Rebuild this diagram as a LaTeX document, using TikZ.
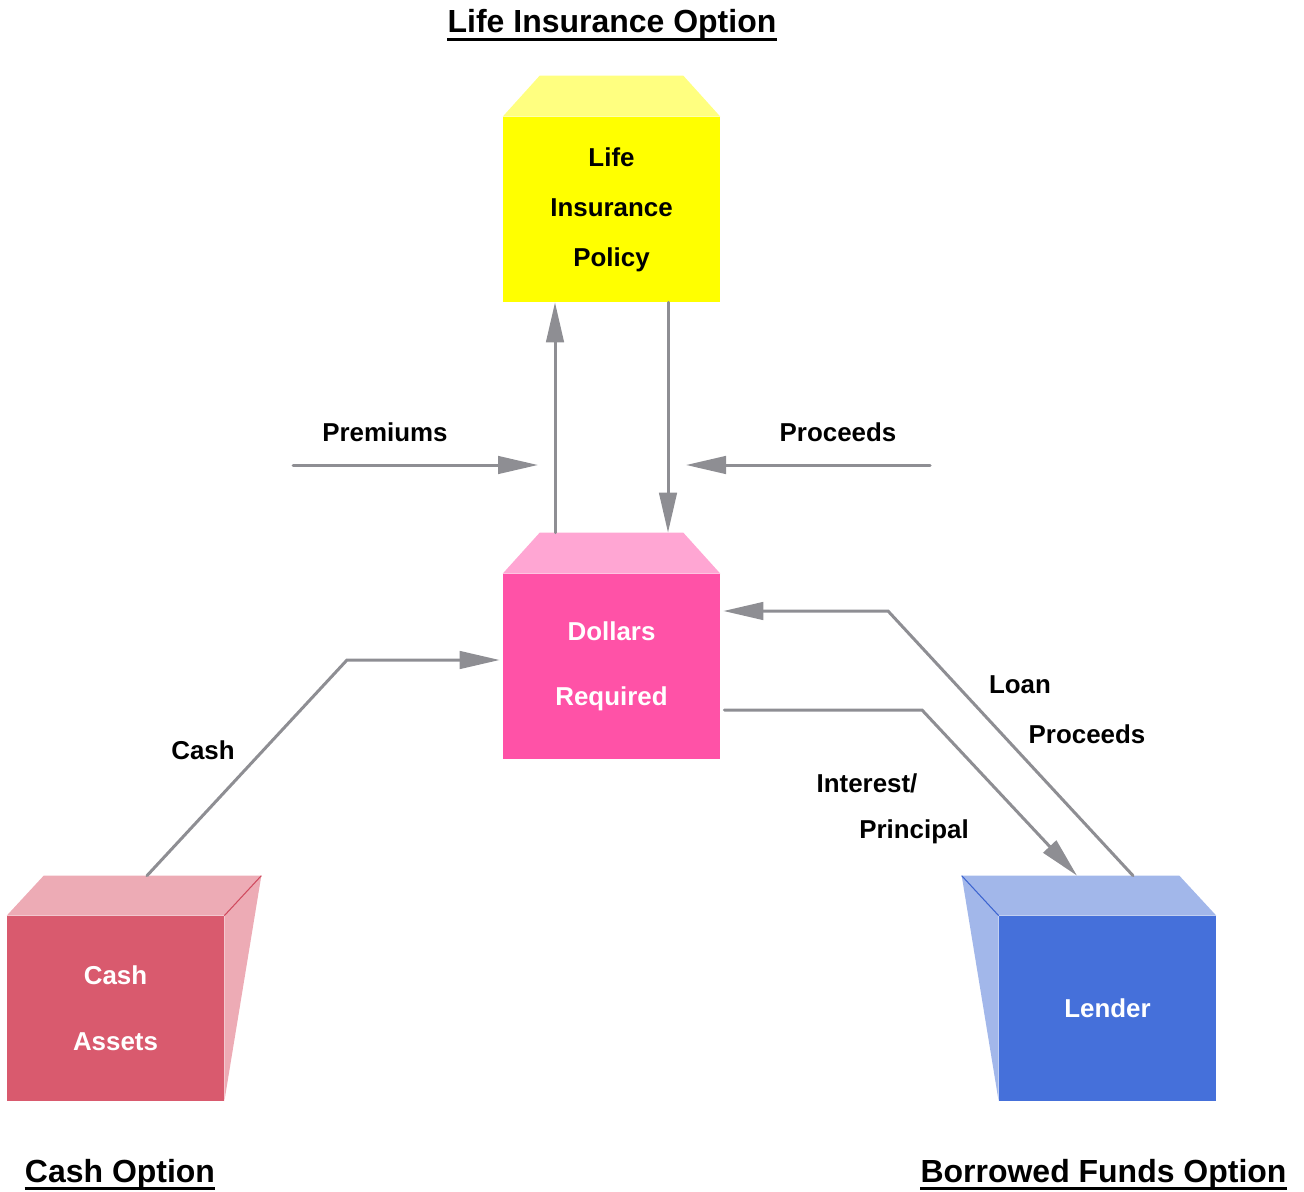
\documentclass[tikz,border=0pt]{standalone}
\usepackage{fontspec}
\setmainfont{Liberation Sans}
\usetikzlibrary{arrows.meta}

\definecolor{polfront}{RGB}{255,255,0}
\definecolor{poltop}{RGB}{255,255,128}
\definecolor{dolfront}{RGB}{255,82,167}
\definecolor{doltop}{RGB}{255,166,211}
\definecolor{cashfront}{RGB}{217,90,110}
\definecolor{cashlight}{RGB}{237,171,181}
\definecolor{cashedge}{RGB}{208,74,94}
\definecolor{lendfront}{RGB}{69,112,218}
\definecolor{lendlight}{RGB}{162,183,234}
\definecolor{lendedge}{RGB}{60,100,208}
\definecolor{flowgray}{RGB}{142,142,147}

\newcommand{\lblfont}{\fontsize{14.74}{17.7}\selectfont\bfseries}
\newcommand{\ttlfont}{\fontsize{18.2}{21.8}\selectfont\bfseries}

\begin{document}
\begin{tikzpicture}[x=0.02cm,y=-0.02cm,
  front/.style={minimum width=4.34cm,minimum height=3.7cm,inner sep=0pt,align=center,font=\lblfont},
  flow/.style={draw=flowgray,line width=0.06cm,line cap=round,-{Triangle[length=0.8cm,width=0.35cm]}},
  lbl/.style={font=\lblfont,inner sep=0pt},
  ttl/.style={font=\ttlfont,inner sep=0pt,anchor=base},
  uline/.style={line width=0.06cm}]
  \useasboundingbox (0,0) rectangle (1304,1192);

  \node[front,fill=polfront] (policy) at (611.5,209.5) {Life\\[10.7pt]Insurance\\[10.7pt]Policy};
  \fill[poltop] (policy.north west) -- ++(37,-41) -- ([shift={(-37,-41)}]policy.north east) -- (policy.north east) -- cycle;

  \node[front,fill=dolfront,text=white] (dollars) at (611.5,666.5) {Dollars\\[19.3pt]Required};
  \fill[doltop] (dollars.north west) -- ++(37,-41) -- ([shift={(-37,-41)}]dollars.north east) -- (dollars.north east) -- cycle;

  \node[front,fill=cashfront,text=white] (cash) at (115.5,1008.5) {Cash\\[19.9pt]Assets};
  \fill[cashlight] (cash.north west) -- ++(37,-40) -- ([shift={(37,-40)}]cash.north east) -- (cash.north east) -- cycle;
  \fill[cashlight] (cash.north east) -- ++(37,-40) -- (cash.south east) -- cycle;
  \draw[cashedge,line width=0.6pt] (cash.north east) -- ++(37,-40);

  \node[front,fill=lendfront,text=white] (lender) at (1107.5,1008.5) {Lender};
  \fill[lendlight] (lender.north west) -- ++(-37,-40) -- ([shift={(-37,-40)}]lender.north east) -- (lender.north east) -- cycle;
  \fill[lendlight] (lender.north west) -- ++(-37,-40) -- (lender.south west) -- cycle;
  \draw[lendedge,line width=0.6pt] (lender.north west) -- ++(-37,-40);

  \draw[flow] ([shift={(-56.5,-41)}]dollars.north) -- ([shift={(-56.5,0)}]policy.south);
  \draw[flow] ([shift={(56.5,0)}]policy.south) -- ([shift={(56.5,-41)}]dollars.north);

  \coordinate (premL) at (293,465);
  \coordinate (premR) at (538,465);
  \draw[flow] (premL) -- (premR);
  \coordinate (procR) at (930,465);
  \coordinate (procL) at (686,465);
  \draw[flow] (procR) -- (procL);

  \coordinate (cashbend) at (347,660);
  \draw[flow] ([shift={(31.5,-40)}]cash.north) -- (cashbend) -- ([shift={(-3,-6.5)}]dollars.west);
  \coordinate (loanbend) at (888,611);
  \draw[flow] ([shift={(25.5,-40)}]lender.north) -- (loanbend) -- ([shift={(3,-55.5)}]dollars.east);
  \coordinate (intbend) at (922,710);
  \draw[flow] ([shift={(4,43.5)}]dollars.east) -- (intbend) -- ([shift={(-30.5,-40)}]lender.north);

  \node[lbl] (premlbl) at (385,432) {Premiums};
  \node[lbl] (proclbl) at (838,432) {Proceeds};
  \node[lbl] (cashlbl) at (203,750) {Cash};
  \node[lbl] (loanlbl) at (1020,685) {Loan};
  \node[lbl] (loanproc) at (1087,734) {Proceeds};
  \node[lbl] (intlbl) at (867,783) {Interest/};
  \node[lbl] (princlbl) at (914,832) {Principal};

  \node[ttl] (lifettl) at (612,33) {Life Insurance Option};
  \draw[uline] ([yshift=-0.13cm]lifettl.base west) -- ([yshift=-0.13cm]lifettl.base east);
  \node[ttl] (cashttl) at (120,1182) {Cash Option};
  \draw[uline] ([yshift=-0.13cm]cashttl.base west) -- ([yshift=-0.13cm]cashttl.base east);
  \node[ttl] (borrttl) at (1103.5,1182) {Borrowed Funds Option};
  \draw[uline] ([yshift=-0.13cm]borrttl.base west) -- ([yshift=-0.13cm]borrttl.base east);
\end{tikzpicture}
\end{document}
